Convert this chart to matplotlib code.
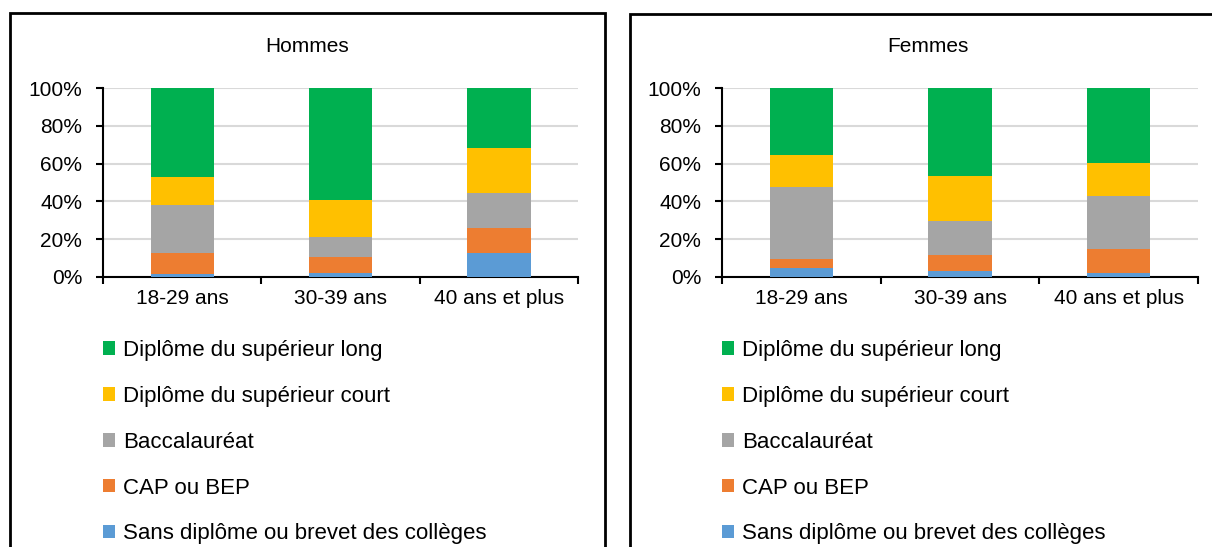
import numpy as np
import matplotlib as mpl
mpl.use("Agg")
import matplotlib.pyplot as plt
from matplotlib.patches import Rectangle, Patch

plt.rcParams['font.family'] = ['Liberation Sans', 'DejaVu Sans']

#Categories and series (shares in %)
ages = ["18-29 ans", "30-39 ans", "40 ans et plus"]
niveaux = ["Sans diplôme ou brevet des collèges", "CAP ou BEP", "Baccalauréat",
           "Diplôme du supérieur court", "Diplôme du supérieur long"]
couleurs = ["#5b9bd5", "#ed7d31", "#a5a5a5", "#ffc000", "#00b050"]

hommes_sans = [1.6, 2.1, 12.9]
hommes_cap = [11.3, 8.3, 13.2]
hommes_bac = [25.1, 10.6, 18.2]
hommes_court = [14.7, 19.6, 24.1]
hommes_long = [47.3, 59.4, 31.6]

femmes_sans = [5.0, 3.0, 2.1]
femmes_cap = [4.4, 8.9, 12.8]
femmes_bac = [38.2, 17.5, 27.8]
femmes_court = [17.0, 23.9, 17.7]
femmes_long = [35.4, 46.7, 39.6]

W, H = 1212, 547
fig = plt.figure(figsize=(W / 100, H / 100), dpi=100)

# panel borders (bottom edge is cut off in the original)
fig.patches.append(Rectangle((10 / W, -0.05), 595 / W, (H - 13) / H + 0.05, transform=fig.transFigure,
                             fill=False, edgecolor="black", linewidth=2))
fig.patches.append(Rectangle((630 / W, -0.05), 595 / W, (H - 14) / H + 0.05, transform=fig.transFigure,
                             fill=False, edgecolor="black", linewidth=2))


def panel(x0, x1, p0, titre, series):
    ax = fig.add_axes([x0 / W, (H - 277) / H, (x1 - x0) / W, 189 / H])
    x = np.arange(len(ages))
    bottom = np.zeros(len(ages))
    for vals, c, lab in zip(series, couleurs, niveaux):
        ax.bar(x, vals, 0.4, bottom=bottom, color=c, label=lab, zorder=3)
        bottom += np.array(vals)
    ax.set_xlim(-0.5, 2.5)
    ax.set_ylim(0, 100)
    ax.set_yticks(np.arange(0, 101, 20))
    ax.set_yticklabels([f"{v}%" for v in range(0, 101, 20)], fontsize=15)
    ax.set_xticks(x)
    ax.set_xticklabels(ages, fontsize=15)
    ax.set_xticks([-0.5, 0.5, 1.5, 2.5], minor=True)
    ax.tick_params(axis="x", which="major", length=0, pad=9)
    ax.tick_params(axis="x", which="minor", length=5, width=1.5, direction="out")
    ax.tick_params(axis="y", length=5, width=1.5, direction="out", pad=10)
    ax.grid(axis="y", color="#d9d9d9", linewidth=1.5, zorder=0)
    for s in ["top", "right"]:
        ax.spines[s].set_visible(False)
    ax.spines["left"].set_linewidth(1.5)
    ax.spines["bottom"].set_linewidth(1.5)
    # title centred on the panel
    fig.text((p0 + 297.5) / W, (H - 46) / H, titre, fontsize=15, ha="center", va="center")
    handles = [Patch(facecolor=c) for c in couleurs][::-1]
    ax.legend(handles, niveaux[::-1], loc="upper left",
              bbox_to_anchor=((x0 - 9) / W, (H - 331) / H), bbox_transform=fig.transFigure,
              frameon=False, fontsize=16, handlelength=0.55, handleheight=0.55,
              handletextpad=0.35, labelspacing=1.12, borderaxespad=0)
    return ax


panel(103, 578, 10, "Hommes", [hommes_sans, hommes_cap, hommes_bac, hommes_court, hommes_long])
panel(722, 1198, 630, "Femmes", [femmes_sans, femmes_cap, femmes_bac, femmes_court, femmes_long])

plt.savefig("out.png", dpi=100)
